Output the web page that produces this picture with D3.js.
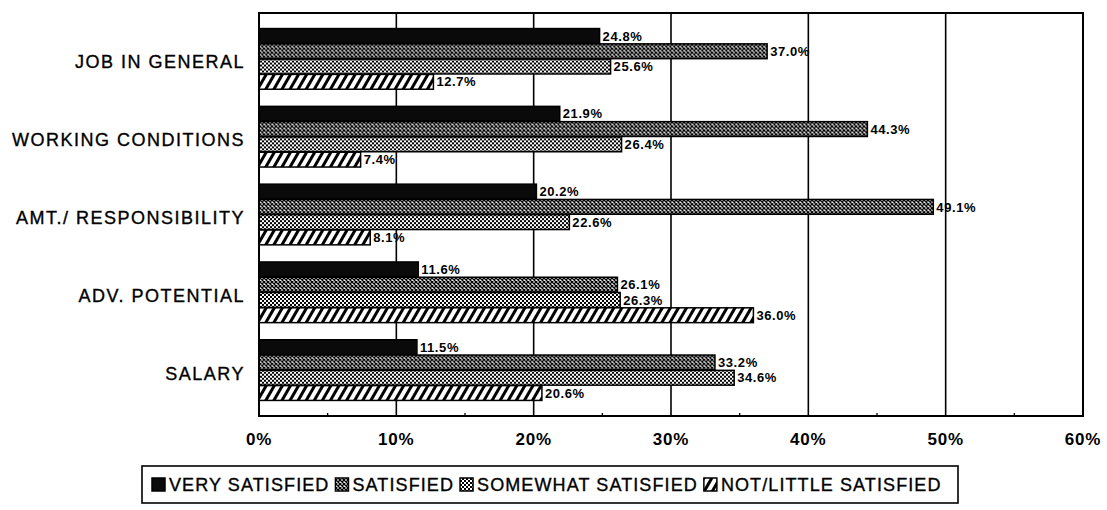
<!DOCTYPE html>
<html><head><meta charset="utf-8">
<script src="https://cdn.jsdelivr.net/npm/d3@7"></script>
<style>body{margin:0;background:#fff}svg{display:block}</style>
</head><body><svg id="c" width="1107" height="510"></svg>
<script>
const categories = ["JOB IN GENERAL","WORKING CONDITIONS","AMT./ RESPONSIBILITY","ADV. POTENTIAL","SALARY"];
const seriesNames = ["VERY SATISFIED","SATISFIED","SOMEWHAT SATISFIED","NOT/LITTLE SATISFIED"];
const verySatisfied = [24.8, 21.9, 20.2, 11.6, 11.5];
const satisfied = [37.0, 44.3, 49.1, 26.1, 33.2];
const somewhatSatisfied = [25.6, 26.4, 22.6, 26.3, 34.6];
const notLittleSatisfied = [12.7, 7.4, 8.1, 36.0, 20.6];
const xTicks = [0,10,20,30,40,50,60];
const minorTicks = [5,15,25,35,45,55];

const seriesValues = [verySatisfied, satisfied, somewhatSatisfied, notLittleSatisfied];
const fills = ["url(#pVery)","url(#pSat)","url(#pSome)","url(#pNot)"];

const svg = d3.select("#c");
const defs = svg.append("defs");
const pv = defs.append("pattern").attr("id","pVery").attr("patternUnits","userSpaceOnUse").attr("width",6).attr("height",6);
pv.append("rect").attr("width",6).attr("height",6).attr("fill","#0a0a0a");
const ps = defs.append("pattern").attr("id","pSat").attr("patternUnits","userSpaceOnUse").attr("width",4).attr("height",4);
ps.append("rect").attr("width",4).attr("height",4).attr("fill","#fff");
ps.append("path").attr("d","M0,0L4,4M4,0L0,4").attr("stroke","#000").attr("stroke-width",1.3);
const pm = defs.append("pattern").attr("id","pSome").attr("patternUnits","userSpaceOnUse").attr("width",4).attr("height",4);
pm.append("rect").attr("width",4).attr("height",4).attr("fill","#fff");
pm.append("rect").attr("x",0).attr("y",0).attr("width",2).attr("height",2).attr("fill","#000");
pm.append("rect").attr("x",2).attr("y",2).attr("width",2).attr("height",2).attr("fill","#000");
const pn = defs.append("pattern").attr("id","pNot").attr("patternUnits","userSpaceOnUse").attr("width",7).attr("height",7).attr("patternTransform","rotate(30)");
pn.append("rect").attr("width",7).attr("height",7).attr("fill","#fff");
pn.append("rect").attr("x",0).attr("y",0).attr("width",3).attr("height",7).attr("fill","#000");

const plot = {left:259, right:1083, top:13, bottom:416};
const x = d3.scaleLinear().domain([0,60]).range([plot.left, plot.right]);
const y = d3.scaleBand().domain(categories).range([plot.top, plot.bottom]).paddingInner(0.22).paddingOuter(0.2);
const yi = d3.scaleBand().domain(d3.range(4)).range([0, y.bandwidth()]).paddingInner(0.03);

svg.append("g").selectAll("line").data(xTicks.slice(1,-1)).join("line")
  .attr("x1",d=>x(d)).attr("x2",d=>x(d)).attr("y1",plot.top).attr("y2",plot.bottom)
  .attr("stroke","#000").attr("stroke-width",1.6);
svg.append("g").selectAll("line").data(minorTicks).join("line")
  .attr("x1",d=>x(d)).attr("x2",d=>x(d)).attr("y1",plot.bottom-3).attr("y2",plot.bottom)
  .attr("stroke","#000").attr("stroke-width",1.3);

const groups = svg.append("g").selectAll("g").data(categories).join("g")
  .attr("transform",c=>`translate(0,${y(c)})`);
groups.each(function(c, ci){
  const g = d3.select(this);
  seriesValues.forEach((vals, si) => {
    const v = vals[ci];
    g.append("rect").attr("x",x(0)).attr("y",yi(si)).attr("width",x(v)-x(0)).attr("height",yi.bandwidth())
      .attr("fill",fills[si]).attr("stroke","#000").attr("stroke-width",1.5);
    g.append("text").attr("x",x(v)+3).attr("y",yi(si)+yi.bandwidth()/2).attr("dy","0.36em")
      .attr("font-family","Liberation Sans, Arial, sans-serif").attr("font-weight","bold")
      .attr("font-size",13).attr("letter-spacing",0.6).attr("fill","#000")
      .text(v.toFixed(1)+"%");
  });
});

svg.append("rect").attr("x",plot.left).attr("y",plot.top).attr("width",plot.right-plot.left).attr("height",plot.bottom-plot.top)
  .attr("fill","none").attr("stroke","#000").attr("stroke-width",2);

svg.append("g").selectAll("text").data(categories).join("text")
  .attr("x",245).attr("y",c=>y(c)+y.bandwidth()/2+3).attr("dy","0.36em")
  .attr("text-anchor","end").attr("font-family","Liberation Sans, Arial, sans-serif")
  .attr("font-size",18).attr("letter-spacing",1.5).attr("fill","#000")
  .attr("stroke","#000").attr("stroke-width",0.35)
  .text(d=>d);

svg.append("g").selectAll("text").data(xTicks).join("text")
  .attr("x",d=>x(d)).attr("y",445).attr("text-anchor","middle")
  .attr("font-family","Liberation Sans, Arial, sans-serif").attr("font-weight","bold")
  .attr("font-size",17).attr("letter-spacing",0.8).attr("fill","#000")
  .text(d=>d+"%");

const leg = svg.append("g");
leg.append("rect").attr("x",142).attr("y",466).attr("width",816).attr("height",37)
  .attr("fill","#fff").attr("stroke","#000").attr("stroke-width",1.6);
let lx = 152;
seriesNames.forEach((n, i) => {
  leg.append("rect").attr("x",lx).attr("y",478).attr("width",13).attr("height",13)
    .attr("fill",fills[i]).attr("stroke","#000").attr("stroke-width",1.5);
  const t = leg.append("text").attr("x",lx+17).attr("y",485).attr("dy","0.36em")
    .attr("font-family","Liberation Sans, Arial, sans-serif").attr("font-size",18)
    .attr("letter-spacing",1.1).attr("fill","#000").attr("stroke","#000").attr("stroke-width",0.35)
    .text(n);
  lx += 17 + t.node().getComputedTextLength() + 6;
});
</script></body></html>
